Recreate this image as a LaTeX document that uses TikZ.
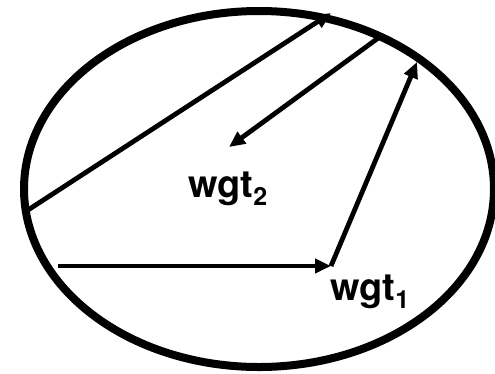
\documentclass[tikz,border=0pt]{standalone}
\usepackage{fontspec}
\setmainfont{TeX Gyre Heros}
\usetikzlibrary{arrows.meta}
\newcommand\wsub[1]{\raisebox{-0.22em}{\fontsize{25}{25}\selectfont #1}}

\begin{document}
\begin{tikzpicture}[x=1pt, y=-1pt,
  rim/.style={line width=8pt},
  vec/.style={line width=4.8pt, -{Triangle[length=16pt,width=14pt]}},
  lbl/.style={font=\fontsize{38}{38}\selectfont\bfseries, inner sep=0pt,
              anchor=base west}]
  \useasboundingbox (0,0) rectangle (495,373);

  \draw[rim] (259,189) ellipse [x radius=235, y radius=178];

  \coordinate (start) at (58,266);
  \coordinate (w1)    at (331,266);
  \coordinate (tipR)  at (417,62);
  \coordinate (rimL)  at (28,210);
  \coordinate (tipT)  at (331,13);
  \coordinate (rimT)  at (381,36);
  \coordinate (w2)    at (229,147);

  \draw[vec] (start) -- (w1);
  \draw[vec] (w1) -- (tipR);
  \draw[vec] (rimL) -- (tipT);
  \draw[vec] (rimT) -- (w2);

  \node[lbl] (wgt1) at (330,300) {wgt\wsub{1}};
  \node[lbl] (wgt2) at (188,197) {wgt\wsub{2}};
\end{tikzpicture}
\end{document}
